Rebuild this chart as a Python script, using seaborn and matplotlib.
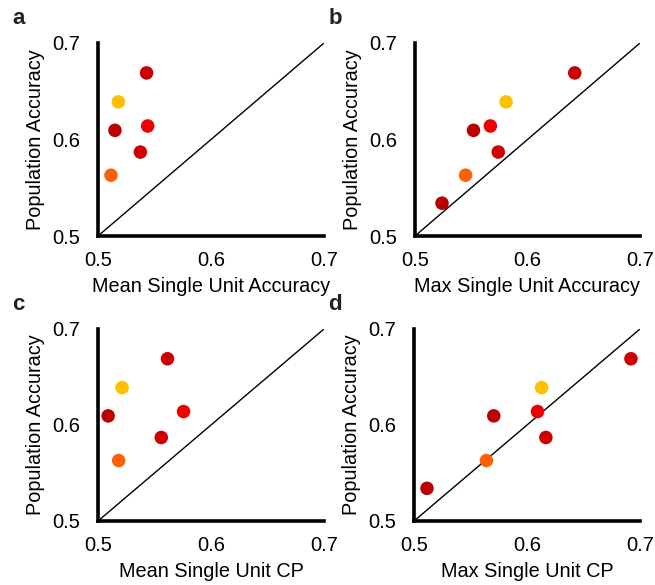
import numpy as np
import pandas as pd
import matplotlib
matplotlib.use("Agg")
import matplotlib.pyplot as plt
import seaborn as sns

# Per-session population decoding accuracy (7 sessions)
sessions = ["s1", "s2", "s3", "s4", "s5", "s6", "s7"]
population_acc = [0.669, 0.639, 0.6095, 0.614, 0.587, 0.563, 0.534]
session_colors = ["#CC0000", "#FFC000", "#BB0000", "#EE0000", "#D00000", "#FF6000", "#B80000"]

# Single-unit summaries per session (NaN: below the plotted range)
mean_unit_acc = [0.543, 0.518, 0.515, 0.544, 0.5375, 0.5115, np.nan]
max_unit_acc = [0.642, 0.581, 0.552, 0.567, 0.574, 0.545, 0.524]
mean_unit_cp = [0.5615, 0.5213, 0.509, 0.5757, 0.556, 0.5183, np.nan]
max_unit_cp = [0.692, 0.613, 0.5706, 0.6093, 0.6167, 0.5641, 0.5115]

panel_letters = ["a", "b", "c", "d"]
x_labels = ["Mean Single Unit Accuracy", "Max Single Unit Accuracy",
            "Mean Single Unit CP", "Max Single Unit CP"]
y_label = "Population Accuracy"
ticks = [0.5, 0.6, 0.7]
tick_labels = ["0.5", "0.6", "0.7"]

sns.set_theme(style="white")
plt.rcParams["font.family"] = ["Liberation Sans", "DejaVu Sans"]

fig = plt.figure(figsize=(6.55, 5.85), dpi=100)
W, H = 655, 585
# axes boxes in pixels: left, top, right, bottom
boxes = [(98, 43, 324, 236), (415, 43, 640, 236),
         (98, 329, 324, 521), (414, 329, 640, 521)]
x_series = [mean_unit_acc, max_unit_acc, mean_unit_cp, max_unit_cp]
palette = dict(zip(sessions, session_colors))

for letter, xl, xs, (l, t, r, b) in zip(panel_letters, x_labels, x_series, boxes):
    ax = fig.add_axes([l / W, 1 - b / H, (r - l) / W, (b - t) / H])
    df = pd.DataFrame({"session": sessions, "x": xs, "y": population_acc})
    ax.plot([0.5, 0.7], [0.5, 0.7], color="black", lw=1.0, zorder=1)
    sns.scatterplot(data=df, x="x", y="y", hue="session", palette=palette,
                    s=95, linewidth=0, legend=False, ax=ax, zorder=3, clip_on=False)
    ax.set_xlim(0.5, 0.7)
    ax.set_ylim(0.5, 0.7)
    ax.set_xticks(ticks)
    ax.set_yticks(ticks)
    ax.set_xticklabels(tick_labels)
    ax.set_yticklabels(tick_labels)
    for side in ["top", "right"]:
        ax.spines[side].set_visible(False)
    for side in ["left", "bottom"]:
        ax.spines[side].set_linewidth(2.6)
        ax.spines[side].set_color("black")
    ax.tick_params(axis="both", direction="out", length=3, width=2,
                   color="black", labelsize=14.5, labelcolor="black", pad=8)
    ax.tick_params(axis="y", pad=10)
    ax.set_xlabel(xl, fontsize=14.3, color="black", labelpad=5)
    ax.set_ylabel(y_label, fontsize=14.3, color="black", labelpad=5)
    fig.text((l - 86) / W, 1 - (t - 24) / H, letter, fontsize=16,
             fontweight="bold", ha="left", va="center", color="#222222")

fig.savefig("out.png", dpi=100)
